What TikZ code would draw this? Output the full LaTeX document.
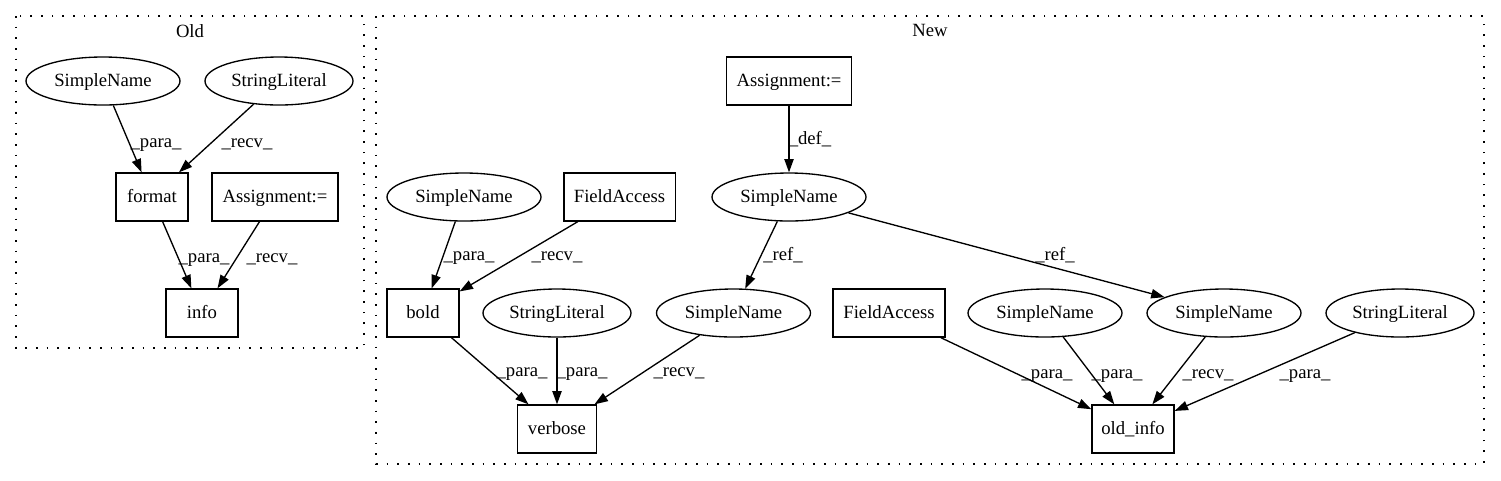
\documentclass[tikz,border=0pt]{standalone}
\usepackage{fontspec}
\setmainfont{Liberation Serif}
\newfontfamily\astserif{Liberation Serif}
\usetikzlibrary{shapes.geometric}
\usetikzlibrary{arrows.meta}

\tikzset{
    astfont/.style={font=\astserif\fontsize{14pt}{16pt}\selectfont},
    astnode/.style={ellipse, draw, line width=1pt, inner sep=0pt,
        minimum height=36pt, text height=10pt, text depth=2.5pt, astfont},
    namenode/.style={astnode, minimum width=115.5pt},
    strnode/.style={astnode, minimum width=111pt},
    stmtbox/.style={rectangle, draw, line width=1pt, inner sep=0pt,
        minimum height=36pt, text height=10pt, text depth=2.5pt, astfont},
    flow/.style={line width=1pt, -{Triangle[length=10pt,width=7pt]}},
    elabel/.style={anchor=base, inner sep=0pt, astfont},
    clusterbox/.style={draw, line width=1pt, dash pattern=on 1.2pt off 6.8pt}
}

\begin{document}
\begin{tikzpicture}[x=0.75pt,y=-0.75pt]
        \useasboundingbox (0,0) rectangle (1501,480);

        % Old
        \draw[clusterbox] (16,16) rectangle (364,348);
        \node[elabel] (oldlbl) at (190,37) {Old};

        \node[namenode] (oName) at (103,81) {SimpleName};
        \node[strnode] (oStr) at (279,81) {StringLiteral};
        \node[stmtbox, minimum width=54pt] (oFormat) at (152,197) {format};
        \node[stmtbox, minimum width=94.5pt] (oAssign) at (275,197) {Assignment:=};
        \node[stmtbox, minimum width=54pt] (oInfo) at (202,313) {info};

        \draw[flow] (oName) -- (oFormat);
        \node[elabel] (oL1) at (156,147) {\_para\_};
        \draw[flow] (oStr) -- (oFormat);
        \node[elabel] (oL2) at (247,147) {\_recv\_};
        \draw[flow] (oFormat) -- (oInfo);
        \node[elabel] (oL3) at (204,262) {\_para\_};
        \draw[flow] (oAssign) -- (oInfo);
        \node[elabel] (oL4) at (272,262) {\_recv\_};

        % New
        \draw[clusterbox] (376,16) rectangle (1484,464);
        \node[elabel] (newlbl) at (930,36) {New};

        \node[stmtbox, minimum width=94pt] (nAssign) at (789,81) {Assignment:=};
        \node[namenode] (nName) at (789,197) {SimpleName};
        \node[namenode] (nNameL) at (464,197) {SimpleName};
        \node[stmtbox, minimum width=83.5pt] (nField) at (619.5,197) {FieldAccess};
        \node[stmtbox, minimum width=54pt] (nBold) at (423,313) {bold};
        \node[strnode] (nStr) at (557,313) {StringLiteral};
        \node[namenode] (nNameR) at (733.5,313) {SimpleName};
        \node[stmtbox, minimum width=59.25pt] (nVerbose) at (557,429) {verbose};
        \node[stmtbox, minimum width=84pt] (nField2) at (889,313) {FieldAccess};
        \node[namenode] (nName2) at (1045,313) {SimpleName};
        \node[namenode] (nName3) at (1224,313) {SimpleName};
        \node[strnode] (nStr2) at (1400,313) {StringLiteral};
        \node[stmtbox, minimum width=61.5pt] (nOldInfo) at (1133,429) {old\_info};

        \draw[flow] (nAssign) -- (nName);
        \node[elabel] (nL1) at (810,144) {\_def\_};
        \draw[flow] (nNameL) -- (nBold);
        \node[elabel] (nL2) at (469,260) {\_para\_};
        \draw[flow] (nField) -- (nBold);
        \node[elabel] (nL3) at (557,260) {\_recv\_};
        \draw[flow] (nName) -- (nNameR);
        \node[elabel] (nL4) at (783,260) {\_ref\_};
        \draw[flow] (nName) -- (nName3);
        \node[elabel] (nL5) at (1055,260) {\_ref\_};
        \draw[flow] (nBold) -- (nVerbose);
        \node[elabel] (nL6) at (522,376) {\_para\_};
        \draw[flow] (nStr) -- (nVerbose);
        \node[elabel] (nL7) at (582,376) {\_para\_};
        \draw[flow] (nNameR) -- (nVerbose);
        \node[elabel] (nL8) at (679,376) {\_recv\_};
        \draw[flow] (nField2) -- (nOldInfo);
        \node[elabel] (nL9) at (1047,378) {\_para\_};
        \draw[flow] (nName2) -- (nOldInfo);
        \node[elabel] (nL10) at (1117,378) {\_para\_};
        \draw[flow] (nName3) -- (nOldInfo);
        \node[elabel] (nL11) at (1208,378) {\_recv\_};
        \draw[flow] (nStr2) -- (nOldInfo);
        \node[elabel] (nL12) at (1305,378) {\_para\_};
    \end{tikzpicture}
\end{document}
